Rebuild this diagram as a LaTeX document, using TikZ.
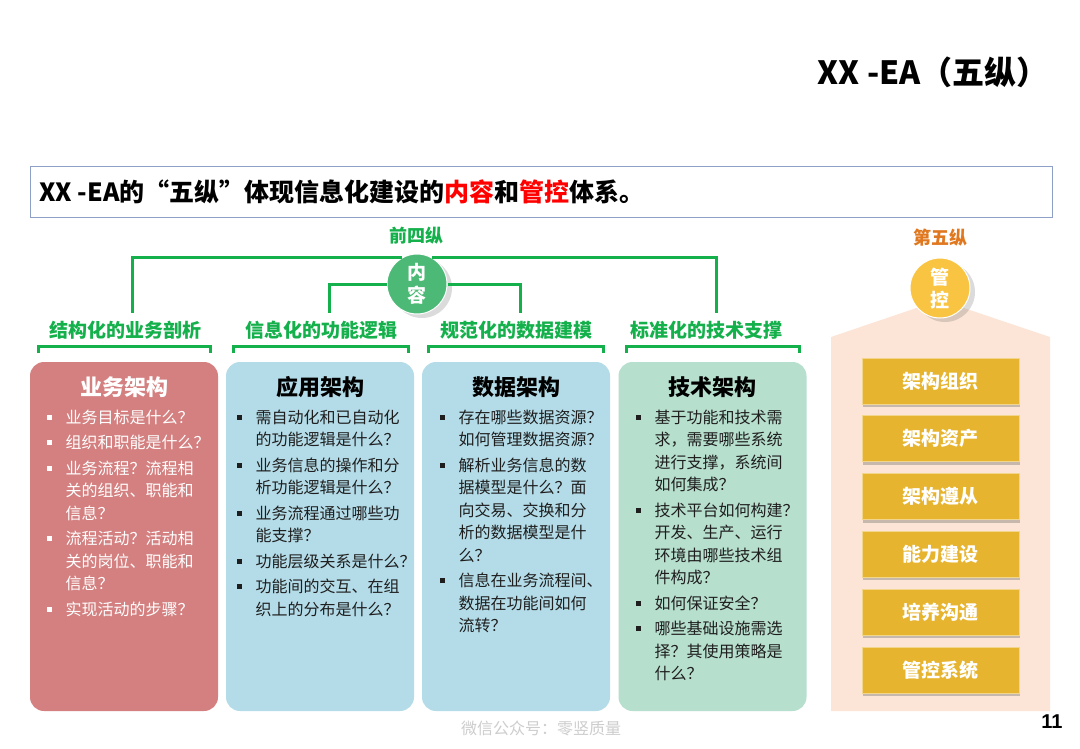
\documentclass[tikz,border=0pt]{standalone}
\usepackage{fontspec}
\setmainfont{Noto Sans CJK SC}
\newfontfamily\arialb{Liberation Sans}
\usetikzlibrary{shadows}
\definecolor{gline}{RGB}{20,176,75}
\definecolor{gcirc}{RGB}{76,186,118}
\definecolor{rosec}{RGB}{212,128,128}
\definecolor{bluec}{RGB}{180,220,232}
\definecolor{tealc}{RGB}{183,223,206}
\definecolor{peach}{RGB}{252,229,214}
\definecolor{goldbox}{RGB}{230,180,46}
\definecolor{goldcirc}{RGB}{249,196,66}
\definecolor{orangetxt}{RGB}{224,120,32}
\definecolor{bannerline}{RGB}{143,160,200}
\definecolor{bodytxt}{RGB}{30,30,30}
\definecolor{wmgray}{RGB}{205,205,205}
\newcommand\sqbul{\makebox[19pt][l]{\rule[3.5pt]{5pt}{5pt}}}
\begin{document}
\begin{tikzpicture}[x=1pt,y=-1pt,
  gconn/.style={draw=gline,line width=3pt},
  lab/.style={text=gline,font=\fontsize{19}{19}\selectfont\bfseries,inner sep=0pt,minimum height=34pt},
  colbox/.style={rounded corners=14pt,minimum width=188pt,minimum height=349pt,inner sep=0pt},
  coltitle/.style={font=\fontsize{22}{22}\selectfont\bfseries,inner sep=0pt},
  items/.style={anchor=north west,inner sep=0pt,font=\fontsize{16}{22.5}\selectfont},
  gbox/.style={fill=goldbox,draw=goldbox!55!white,line width=1pt,minimum width=157pt,minimum height=46pt,
    text=white,font=\fontsize{19}{19}\selectfont\bfseries,inner sep=0pt,
    drop shadow={shadow xshift=1pt,shadow yshift=-3pt,opacity=0.35,fill=black!60}},
  bigcirc/.style={circle,minimum size=60pt,inner sep=0pt,text=white,align=center,
    font=\fontsize{19}{23}\selectfont\bfseries,draw=white,line width=1pt,
    drop shadow={shadow xshift=5pt,shadow yshift=-4pt,opacity=0.2,fill=black!70}}
]
\useasboundingbox[fill=white] (0,0) rectangle (1080,748);

% title
\node[anchor=east,font=\fontsize{32}{32}\selectfont\bfseries,inner sep=0pt] (title) at (1049,72) {XX -EA（五纵）};

% banner
\node[draw=bannerline,line width=1.2pt,minimum width=1022pt,minimum height=51pt,anchor=north west,inner sep=0pt] (banner) at (30,166) {};
\node[anchor=west,font=\fontsize{25}{25}\selectfont\bfseries,inner sep=0pt] (bannertxt) at (39,192)
  {XX -EA的“五纵”体现信息化建设的\textcolor{red}{内容}和\textcolor{red}{管控}体系。};

% front four
\node[text=gline,font=\fontsize{18}{18}\selectfont\bfseries] (q4) at (416,236) {前四纵};
\node[bigcirc,fill=gcirc] (nr) at (417,284) {内\\容};

\node[lab] (l1) at (125,330) {结构化的业务剖析};
\node[lab] (l2) at (321.5,330) {信息化的功能逻辑};
\node[lab] (l3) at (516.5,330) {规范化的数据建模};
\node[lab] (l4) at (706,330) {标准化的技术支撑};

\coordinate (t1) at (132,313);
\coordinate (t2) at (329,313);
\coordinate (t3) at (520,313);
\coordinate (t4) at (716,313);
\draw[gconn] (nr.120) -| (t1);
\draw[gconn] (nr.60) -| (t4);
\draw[gconn] (nr.west) -| (t2);
\draw[gconn] (nr.east) -| (t3);

% brackets
\draw[gconn] (38,353) |- (210,346) -- (210,353);
\draw[gconn] (233,353) |- (408,346) -- (408,353);
\draw[gconn] (428,353) |- (603,346) -- (603,353);
\draw[gconn] (626,353) |- (799,346) -- (799,353);

% columns
\node[colbox,fill=rosec] (c1) at (124,536.5) {};
\node[colbox,fill=bluec] (c2) at (320,536.5) {};
\node[colbox,fill=bluec] (c3) at (516,536.5) {};
\node[colbox,fill=tealc] (c4) at (712.5,536.5) {};

\node[coltitle,text=white] (h1) at (124,387) {业务架构};
\node[coltitle,text=black] (h2) at (320,387) {应用架构};
\node[coltitle,text=black] (h3) at (516,387) {数据架构};
\node[coltitle,text=black] (h4) at (712.5,387) {技术架构};

\node[items,text=white] (i1) at (46.5,407.25) {\begin{tabular}{@{}l@{}l@{}}
\sqbul & 业务目标是什么？\\[3pt]
\sqbul & 组织和职能是什么？\\[3pt]
\sqbul & 业务流程？流程相\\
 & 关的组织、职能和\\
 & 信息？\\[3pt]
\sqbul & 流程活动？活动相\\
 & 关的岗位、职能和\\
 & 信息？\\[3pt]
\sqbul & 实现活动的步骤？
\end{tabular}};

\node[items,text=bodytxt] (i2) at (236.5,407.25) {\begin{tabular}{@{}l@{}l@{}}
\sqbul & 需自动化和已自动化\\
 & 的功能逻辑是什么？\\[3pt]
\sqbul & 业务信息的操作和分\\
 & 析功能逻辑是什么？\\[3pt]
\sqbul & 业务流程通过哪些功\\
 & 能支撑？\\[3pt]
\sqbul & 功能层级关系是什么？\\[3pt]
\sqbul & 功能间的交互、在组\\
 & 织上的分布是什么？
\end{tabular}};

\node[items,text=bodytxt] (i3) at (439.5,407.25) {\begin{tabular}{@{}l@{}l@{}}
\sqbul & 存在哪些数据资源？\\
 & 如何管理数据资源？\\[3pt]
\sqbul & 解析业务信息的数\\
 & 据模型是什么？面\\
 & 向交易、交换和分\\
 & 析的数据模型是什\\
 & 么？\\[3pt]
\sqbul & 信息在业务流程间、\\
 & 数据在功能间如何\\
 & 流转？
\end{tabular}};

\node[items,text=bodytxt] (i4) at (635.5,407.25) {\begin{tabular}{@{}l@{}l@{}}
\sqbul & 基于功能和技术需\\
 & 求，需要哪些系统\\
 & 进行支撑，系统间\\
 & 如何集成？\\[3pt]
\sqbul & 技术平台如何构建？\\
 & 开发、生产、运行\\
 & 环境由哪些技术组\\
 & 件构成？\\[3pt]
\sqbul & 如何保证安全？\\[3pt]
\sqbul & 哪些基础设施需选\\
 & 择？其使用策略是\\
 & 什么？
\end{tabular}};

% fifth
\fill[peach] (831,337) -- (940,300) -- (1050,337) -- (1050,711) -- (831,711) -- cycle;
\node[text=orangetxt,font=\fontsize{18}{18}\selectfont\bfseries] (q5) at (940,238) {第五纵};
\node[bigcirc,fill=goldcirc] (gk) at (940,288) {管\\控};

\node[gbox] (g1) at (940.5,381) {架构组织};
\node[gbox] (g2) at (940.5,438.8) {架构资产};
\node[gbox] (g3) at (940.5,496.6) {架构遵从};
\node[gbox] (g4) at (940.5,554.4) {能力建设};
\node[gbox] (g5) at (940.5,612.2) {培养沟通};
\node[gbox] (g6) at (940.5,670) {管控系统};

% footer
\node[font=\arialb\bfseries\fontsize{20}{20}\selectfont,inner sep=0pt] (pg) at (1052,722) {11};
\node[text=wmgray,font=\fontsize{16}{16}\selectfont,inner sep=0pt] (wmk) at (541,728) {微信公众号：零竖质量};
\end{tikzpicture}
\end{document}
